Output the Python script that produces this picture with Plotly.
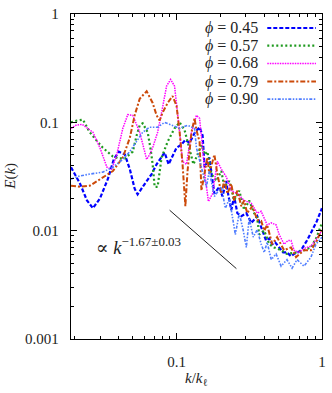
import plotly.graph_objects as go

# DATA
K_045 = [0.0188, 0.0217, 0.0242, 0.0266, 0.0297, 0.0337, 0.0370, 0.0401, 0.0441, 0.0477,
         0.0515, 0.0540, 0.0585, 0.0633, 0.0674, 0.0729, 0.0828, 0.0882, 0.100, 0.108,
         0.115, 0.123, 0.133, 0.144, 0.151, 0.156, 0.168, 0.177, 0.182, 0.197,
         0.207, 0.220, 0.224, 0.238, 0.249, 0.262, 0.279, 0.302, 0.327, 0.359,
         0.382, 0.413, 0.434, 0.455, 0.477, 0.508, 0.541, 0.575, 0.613, 0.643,
         0.685, 0.718, 0.789, 0.855, 0.924, 1.0]
E_045 = [0.0385, 0.0271, 0.0190, 0.0161, 0.0198, 0.0300, 0.0455, 0.0537, 0.0504, 0.0370,
         0.0244, 0.0216, 0.0254, 0.0300, 0.0333, 0.0410, 0.0526, 0.0410, 0.0583, 0.0621,
         0.0689, 0.0647, 0.0796, 0.0902, 0.0760, 0.0385, 0.0474, 0.0288, 0.0220, 0.0254,
         0.0207, 0.0288, 0.0234, 0.0155, 0.0207, 0.0145, 0.0136, 0.0145, 0.0118, 0.0136,
         0.0106, 0.0081, 0.0085, 0.0075, 0.0078, 0.0070, 0.0063, 0.0063, 0.0058, 0.0061,
         0.0063, 0.0066, 0.0081, 0.0100, 0.0123, 0.0161]

K_057 = [0.0188, 0.0207, 0.0227, 0.0253, 0.0283, 0.0311, 0.0365, 0.0401, 0.0441, 0.0500,
         0.0532, 0.0558, 0.0585, 0.0633, 0.0664, 0.0685, 0.0707, 0.0741, 0.0789, 0.0868,
         0.0969, 0.105, 0.1135, 0.123, 0.1307, 0.1393, 0.1483, 0.156, 0.163, 0.1738,
         0.188, 0.2033, 0.213, 0.231, 0.249, 0.270, 0.292, 0.316, 0.342, 0.359,
         0.370, 0.401, 0.434, 0.469, 0.524, 0.575, 0.674, 0.753, 0.841, 0.924, 1.0]
E_057 = [0.100, 0.104, 0.106, 0.081, 0.0675, 0.0583, 0.0484, 0.0464, 0.0464, 0.0537,
         0.076, 0.094, 0.098, 0.081, 0.056, 0.041, 0.0254, 0.0254, 0.0474, 0.0661,
         0.088, 0.100, 0.085, 0.056, 0.041, 0.0504, 0.0621, 0.0504, 0.0537, 0.0333,
         0.0288, 0.0355, 0.0254, 0.0288, 0.019, 0.0234, 0.0155, 0.019, 0.0145, 0.0131,
         0.0092, 0.0100, 0.0075, 0.0070, 0.0066, 0.0061, 0.0063, 0.0066, 0.0070, 0.0088, 0.0118]

K_068 = [0.0188, 0.0203, 0.0224, 0.0266, 0.0297, 0.0332, 0.0359, 0.0388, 0.0427, 0.0462,
         0.0500, 0.0558, 0.0623, 0.0653, 0.0685, 0.0741, 0.0789, 0.0854, 0.0910, 0.0969,
         0.105, 0.110, 0.117, 0.1267, 0.137, 0.144, 0.151, 0.158, 0.1657, 0.177,
         0.191, 0.2033, 0.220, 0.238, 0.262, 0.292, 0.327, 0.359, 0.382, 0.420,
         0.448, 0.484, 0.508, 0.549, 0.585, 0.613, 0.643, 0.695, 0.765, 0.841, 0.924, 1.0]
E_068 = [0.088, 0.094, 0.0959, 0.081, 0.0583, 0.0385, 0.037, 0.0504, 0.088, 0.118,
         0.116, 0.081, 0.0455, 0.0504, 0.0583, 0.081, 0.123, 0.216, 0.249, 0.216,
         0.081, 0.0436, 0.041, 0.081, 0.116, 0.109, 0.0583, 0.030, 0.0186, 0.022,
         0.0436, 0.037, 0.0313, 0.0234, 0.022, 0.019, 0.0179, 0.0145, 0.0151, 0.0113,
         0.0118, 0.0113, 0.0092, 0.0075, 0.0081, 0.0081, 0.0066, 0.0063, 0.0069, 0.0072, 0.0085, 0.0100]

K_079 = [0.0188, 0.0217, 0.0253, 0.0311, 0.0365, 0.0427, 0.0477, 0.0515, 0.0558, 0.0623,
         0.0685, 0.0729, 0.0765, 0.0802, 0.0868, 0.0939, 0.100, 0.105, 0.110, 0.115,
         0.119, 0.1267, 0.133, 0.137, 0.144, 0.1483, 0.156, 0.163, 0.168, 0.182,
         0.191, 0.2033, 0.213, 0.224, 0.238, 0.249, 0.262, 0.279, 0.292, 0.306,
         0.332, 0.359, 0.382, 0.401, 0.420, 0.455, 0.492, 0.549, 0.613, 0.664,
         0.753, 0.841, 0.924, 1.0]
E_079 = [0.026, 0.0254, 0.026, 0.0313, 0.0355, 0.0474, 0.0718, 0.116, 0.165, 0.194,
         0.151, 0.116, 0.104, 0.123, 0.151, 0.175, 0.142, 0.081, 0.041, 0.0168,
         0.0355, 0.081, 0.109, 0.085, 0.0661, 0.0234, 0.0355, 0.0474, 0.0333, 0.0504,
         0.0333, 0.022, 0.0288, 0.022, 0.0271, 0.019, 0.0234, 0.0168, 0.019, 0.0145,
         0.0168, 0.0126, 0.0123, 0.010, 0.0113, 0.0075, 0.0087, 0.0066, 0.007, 0.0057,
         0.0066, 0.0066, 0.0081, 0.0104]

K_090 = [0.0188, 0.0217, 0.0253, 0.0311, 0.0365, 0.0427, 0.0477, 0.0532, 0.0585, 0.0653,
         0.0741, 0.0828, 0.0924, 0.105, 0.119, 0.133, 0.137, 0.1483, 0.1604, 0.168,
         0.182, 0.2033, 0.2167, 0.231, 0.2537, 0.270, 0.2877, 0.302, 0.316, 0.337,
         0.359, 0.382, 0.401, 0.420, 0.448, 0.484, 0.524, 0.575, 0.623, 0.674,
         0.753, 0.841, 0.910, 1.0]
E_090 = [0.030, 0.032, 0.0333, 0.0347, 0.0385, 0.0455, 0.0537, 0.0661, 0.081, 0.0902,
         0.0902, 0.100, 0.094, 0.088, 0.094, 0.088, 0.0583, 0.0385, 0.0254, 0.0355,
         0.0207, 0.0254, 0.0161, 0.0198, 0.0092, 0.0145, 0.010, 0.007, 0.0131, 0.0087,
         0.0102, 0.0075, 0.0063, 0.0078, 0.0054, 0.0061, 0.0047, 0.0054, 0.0045, 0.0054,
         0.0047, 0.0057, 0.0075, 0.0087]

PHI_LABELS = ['0.45', '0.57', '0.68', '0.79', '0.90']

# power-law guide line
FIT_K = [0.0896, 0.258]
FIT_E = [0.01545, 0.00446]
FIT_LABEL = '∝ <i>k</i><sup>−1.67±0.03</sup>'

X_TICKS = [0.1, 1]
X_TICK_TEXT = ['0.1', '1']
Y_TICKS = [0.001, 0.01, 0.1, 1]
Y_TICK_TEXT = ['0.001', '0.01', '0.1', '1']

# STYLE
FONT = 'Liberation Serif, DejaVu Serif, serif'
TEXT_COLOR = '#222222'
STYLES = [
    dict(color='#0000ff', width=2.2, dash='4px,2px'),
    dict(color='#1f9a1f', width=2.2, dash='2px,2.5px'),
    dict(color='#ff00ff', width=1.5, dash='1.5px,1px'),
    dict(color='#cc4a0a', width=2, dash='5px,2px,2px,2px'),
    dict(color='#4f7dff', width=1.6, dash='3px,1.5px,1.5px,1.5px,1.5px,1.5px'),
]

series = [(K_045, E_045), (K_057, E_057), (K_068, E_068), (K_079, E_079), (K_090, E_090)]

fig = go.Figure()
for (k, e), label, style in zip(series, PHI_LABELS, STYLES):
    fig.add_trace(go.Scatter(x=k, y=e, mode='lines', name='ϕ = ' + label,
                             line=style, showlegend=False))

fig.add_trace(go.Scatter(x=FIT_K, y=FIT_E, mode='lines', showlegend=False,
                         line=dict(color='#222222', width=1)))

# hand-made legend: text on the left, line sample on the right
rows = [0.957, 0.903, 0.848, 0.792, 0.738]
for label, style, y in zip(PHI_LABELS, STYLES, rows):
    fig.add_annotation(text='<i>ϕ</i> = ' + label, xref='paper', yref='paper',
                       x=0.752, y=y, xanchor='right', yanchor='middle', showarrow=False,
                       font=dict(family=FONT, size=16, color=TEXT_COLOR))
    fig.add_shape(type='line', xref='paper', yref='paper', x0=0.782, x1=0.976, y0=y, y1=y,
                  line=style)

fig.add_annotation(text=FIT_LABEL, xref='paper', yref='paper', x=0.09, y=0.285,
                   xanchor='left', yanchor='middle', showarrow=False,
                   font=dict(family=FONT, size=18.5, color=TEXT_COLOR))

# axis titles
fig.add_annotation(text='<i>E</i>(<i>k</i>)', xref='paper', yref='paper', x=-0.242, y=0.5,
                   xanchor='center', yanchor='middle', textangle=-90, showarrow=False,
                   font=dict(family=FONT, size=15, color=TEXT_COLOR))
fig.add_annotation(text='<i>k</i>/<i>k</i><sub>ℓ</sub>', xref='paper', yref='paper', x=0.5, y=-0.123,
                   xanchor='center', yanchor='middle', showarrow=False,
                   font=dict(family=FONT, size=15, color=TEXT_COLOR))

minor_x = [m * 10 ** p for p in (-2, -1) for m in range(2, 10)]
minor_y = [m * 10 ** p for p in (-3, -2, -1) for m in range(2, 10)]

axis_common = dict(type='log', showgrid=False, zeroline=False, showline=True,
                   linecolor='black', linewidth=1.3, mirror='allticks',
                   ticks='inside', ticklen=6, tickwidth=1, tickcolor='black',
                   tickmode='array', ticklabeloverflow='allow',
                   tickfont=dict(family=FONT, size=15, color=TEXT_COLOR))

fig.update_xaxes(**axis_common, range=[-1.726, 0.0005], tickvals=X_TICKS, ticktext=X_TICK_TEXT,
                 ticklabelstandoff=9,
                 minor=dict(ticks='inside', ticklen=3, tickvals=minor_x, tickcolor='black', showgrid=False))
fig.update_yaxes(**axis_common, range=[-3.0005, 0.0005], tickvals=Y_TICKS, ticktext=Y_TICK_TEXT,
                 ticklabelstandoff=8,
                 minor=dict(ticks='inside', ticklen=3, tickvals=minor_y, tickcolor='black', showgrid=False))

fig.update_layout(width=332, height=393, paper_bgcolor='white', plot_bgcolor='white',
                  margin={'l': 71, 'r': 9, 'b': 54, 't': 6, 'pad': 0}, showlegend=False)

# page body margin would shift the figure by 8px inside the window
fig.write_html("out.html", config={'displayModeBar': False},
               post_script="document.body.style.margin='0';")
